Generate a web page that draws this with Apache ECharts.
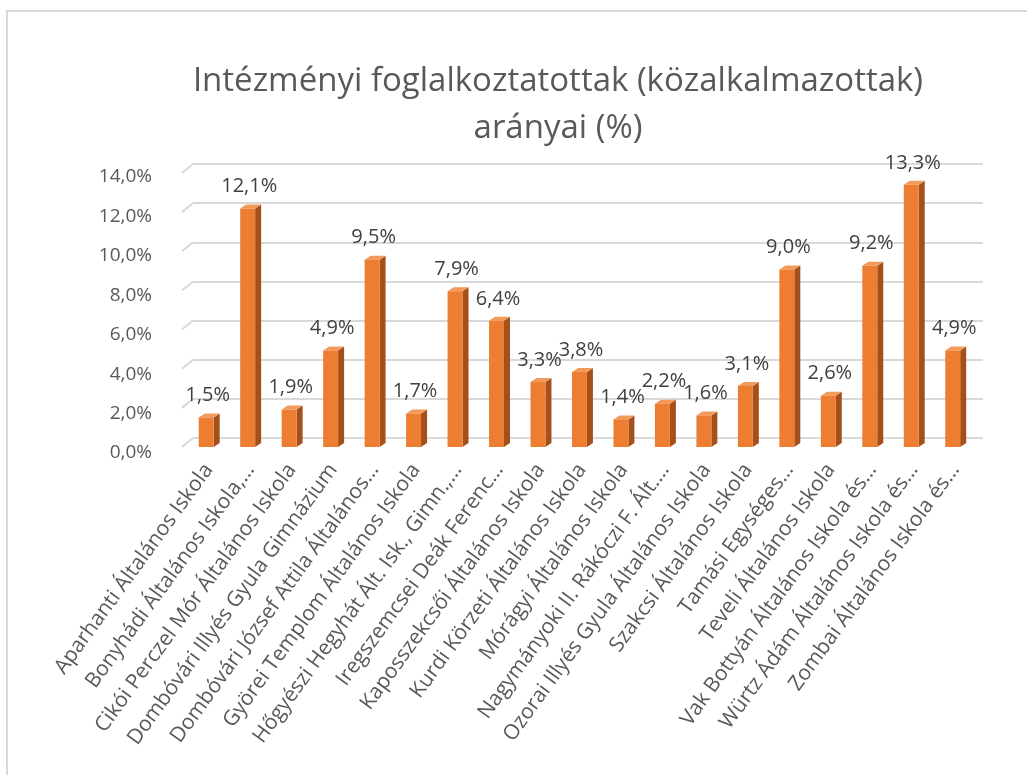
<!DOCTYPE html>
<html>
<head>
<meta charset="utf-8">
<script src="https://cdn.jsdelivr.net/npm/echarts@6/dist/echarts.min.js"></script>
<style>
    html, body { margin: 0; padding: 0; background: #ffffff; }
    #chart { width: 1027px; height: 775px; }
</style>
</head>
<body>
<div id="chart"></div>
<script>
    // intézmények (a tengelyen rövidítve, ahogy az eredetin)
    const categories = [
        'Aparhanti Általános Iskola',
        'Bonyhádi Általános Iskola,…',
        'Cikói Perczel Mór Általános Iskola',
        'Dombóvári Illyés Gyula Gimnázium',
        'Dombóvári József Attila Általános…',
        'Györei Templom Általános Iskola',
        'Hőgyészi Hegyhát Ált. Isk., Gimn.,…',
        'Iregszemcsei Deák Ferenc…',
        'Kaposszekcsői Általános Iskola',
        'Kurdi Körzeti Általános Iskola',
        'Mórágyi Általános Iskola',
        'Nagymányoki II. Rákóczi F. Ált.…',
        'Ozorai Illyés Gyula Általános Iskola',
        'Szakcsi Általános Iskola',
        'Tamási Egységes…',
        'Teveli Általános Iskola',
        'Vak Bottyán Általános Iskola és…',
        'Würtz Ádám Általános Iskola és…',
        'Zombai Általános Iskola és…'
    ];
    // arányok (%)
    const shares = [1.5, 12.1, 1.9, 4.9, 9.5, 1.7, 7.9, 6.4, 3.3, 3.8, 1.4, 2.2, 1.6, 3.1, 9.0, 2.6, 9.2, 13.3, 4.9];
    // y tengely osztásai
    const yTicks = [0, 2, 4, 6, 8, 10, 12, 14];

    const FONT = '"Open Sans", "DejaVu Sans", sans-serif';
    const fmt = v => v.toFixed(1).replace('.', ',') + '%';

    const chart = echarts.init(document.getElementById('chart'));

    // oszlop 3D hatással: elülső lap, oldallap, tető
    function renderBar(params, api) {
        const top = api.coord([api.value(0), api.value(1)]);
        const base = api.coord([api.value(0), 0]);
        const bw = api.size([1, 0])[0];
        const fw = bw * 0.36, d = bw * 0.145, dy = 4;
        const x0 = top[0] - fw * 0.67, x1 = x0 + fw;
        return {
            type: 'group',
            children: [
                {
                    type: 'polygon',
                    shape: { points: [[x1, top[1]], [x1 + d, top[1] - dy], [x1 + d, base[1] - dy], [x1, base[1]]] },
                    style: { fill: '#A5501A' }
                },
                {
                    type: 'polygon',
                    shape: { points: [[x0, top[1]], [x0 + d, top[1] - dy], [x1 + d, top[1] - dy], [x1, top[1]]] },
                    style: { fill: '#F29A5C' }
                },
                {
                    type: 'rect',
                    shape: { x: x0, y: top[1], width: fw, height: base[1] - top[1] },
                    style: { fill: '#ED7D31' }
                },
                {
                    type: 'text',
                    style: {
                        text: fmt(api.value(1)),
                        x: top[0] - 1,
                        y: top[1] - dy - 8,
                        align: 'center',
                        verticalAlign: 'bottom',
                        fill: '#404040',
                        font: '20px ' + FONT
                    }
                }
            ]
        };
    }

    // a hátsó fal rácsvonalainak ferde kezdete
    function renderSlant(params, api) {
        const p = api.coord([0, api.value(0)]);
        const left = p[0] - api.size([1, 0])[0] / 2;
        return {
            type: 'line',
            shape: { x1: left, y1: p[1], x2: left - 11, y2: p[1] + 9 },
            style: { stroke: '#D9D9D9', lineWidth: 2 }
        };
    }

    chart.setOption({
        backgroundColor: '#ffffff',
        animation: false,
        title: {
            text: 'Intézményi foglalkoztatottak (közalkalmazottak)\narányai (%)',
            left: 553,
            top: 53,
            textAlign: 'center',
            textStyle: {
                fontFamily: FONT,
                fontSize: 33,
                fontWeight: 'normal',
                color: '#595959',
                lineHeight: 47
            }
        },
        graphic: [{
            type: 'rect',
            shape: { x: 7, y: 11, width: 1040, height: 790 },
            style: { fill: 'none', stroke: '#D9D9D9', lineWidth: 2 },
            silent: true
        }],
        grid: [
            { left: 188, right: 51, top: 171, bottom: 328 },
            { left: 193, right: 44, top: 164, bottom: 337 }
        ],
        xAxis: [
            {
                gridIndex: 0,
                type: 'category',
                data: categories,
                axisLine: { show: false },
                axisTick: { show: false },
                axisLabel: {
                    interval: 0,
                    rotate: 54,
                    margin: 19,
                    color: '#595959',
                    fontFamily: FONT,
                    fontSize: 21
                }
            },
            {
                gridIndex: 1,
                type: 'category',
                data: categories,
                show: false
            }
        ],
        yAxis: [
            {
                gridIndex: 0,
                type: 'value',
                min: yTicks[0],
                max: yTicks[yTicks.length - 1],
                interval: 2,
                splitLine: { show: false },
                axisLine: { show: false },
                axisTick: { show: false },
                axisLabel: {
                    margin: 36,
                    color: '#595959',
                    fontFamily: FONT,
                    fontSize: 19,
                    verticalAlign: 'top',
                    lineHeight: 12,
                    formatter: v => fmt(v)
                }
            },
            {
                gridIndex: 1,
                type: 'value',
                min: yTicks[0],
                max: yTicks[yTicks.length - 1],
                interval: 2,
                axisLine: { show: false },
                axisTick: { show: false },
                axisLabel: { show: false },
                splitLine: { lineStyle: { color: '#D9D9D9', width: 2 } }
            }
        ],
        series: [
            {
                type: 'custom',
                xAxisIndex: 1,
                yAxisIndex: 1,
                renderItem: renderSlant,
                data: yTicks.map(v => [v]),
                encode: { y: 0 },
                silent: true
            },
            {
                type: 'custom',
                xAxisIndex: 0,
                yAxisIndex: 0,
                renderItem: renderBar,
                data: shares.map((v, i) => [i, v]),
                encode: { x: 0, y: 1 },
                z: 3
            }
        ]
    });
</script>
</body>
</html>
